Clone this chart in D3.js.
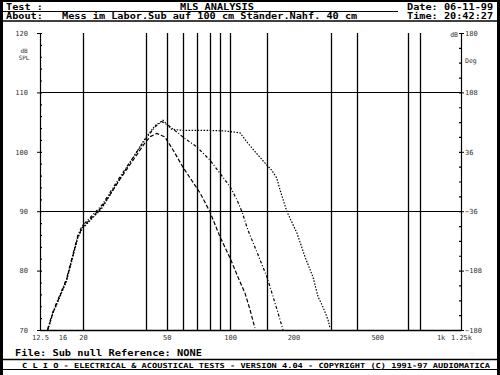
<!DOCTYPE html>
<html>
<head>
<meta charset="utf-8">
<script src="https://cdn.jsdelivr.net/npm/d3@7"></script>
<style>
  body { margin: 0; background: #fff; }
  text { font-family: "DejaVu Sans Mono", monospace; }
</style>
</head>
<body>
<script>
// level axis (dB SPL) and phase axis (Deg)
let dbTicks = [70, 80, 90, 100, 110, 120]
let dbGrid = [90, 110]
let phaseTicks = [-180, -108, -36, 36, 108, 180]

// frequency axis
let freqTicks = [12.5, 16, 20, 50, 100, 200, 500, 1000, 1250]
let freqLabels = ['12.5', '16', '20', '50', '100', '200', '500', '1k', '1.25k']
let gridFreqs = [20, 40, 50, 60, 70, 80, 90, 100, 150, 300, 400, 700, 800]

// three measured curves
let freqA = [13.6, 14.4, 16.7, 18.9, 19.8, 24.6, 30, 39.4, 42, 44.8, 49, 54, 59.7, 71.9, 80.2, 89.5, 100, 109, 117.7, 124.4, 131.2]
let dbA = [70, 72.9, 78.4, 85.7, 87.2, 90.7, 95.4, 101.5, 102.6, 103.1, 102.5, 100.1, 97.4, 93.1, 89.9, 85.7, 82.1, 78.9, 76.2, 73.4, 70.3]

let freqB = [13.6, 14.4, 16.7, 18.9, 19.8, 24.6, 30, 39.4, 44, 47.3, 50.7, 59.7, 69.6, 80.2, 89.5, 100, 107.9, 113.9, 121.6, 134.2, 149.7, 158.1, 168.9, 178.3]
let dbB = [70.2, 73.1, 78.6, 85.9, 87.5, 91.0, 95.8, 102.0, 104.2, 105.1, 104.5, 102.5, 100.8, 98.6, 96.4, 94.1, 91.9, 89.9, 86.8, 83.1, 78.9, 76.2, 72.9, 70.0]

let freqC = [13.6, 14.4, 16.7, 18.9, 19.8, 24.6, 30, 39.4, 44, 48, 52.7, 60, 71.9, 80, 94.6, 111.4, 119.9, 133.8, 149.2, 157.6, 166.5, 172.6, 186.3, 207.9, 226.9, 247.7, 261.6, 276, 291.9, 298.4]
let dbC = [70, 72.8, 78.2, 85.5, 87.0, 90.5, 95.5, 102.2, 104.4, 105.3, 103.8, 103.6, 103.6, 103.6, 103.5, 103.2, 101.7, 99.7, 97.8, 96.9, 95.6, 93.6, 89.9, 86.3, 82.3, 78.9, 75.6, 73.9, 71.7, 70.3]

width = 500
height = 375
margin = ({ left: 40, right: 39, top: 33, bottom: 45 })

let svg = d3.select('body')
  .append('svg')
  .attr('width', width)
  .attr('height', height)

// frame and header
svg.append('rect').attr('x', 0).attr('y', 0).attr('width', 3).attr('height', height).attr('fill', '#000')
svg.append('rect').attr('x', 497).attr('y', 0).attr('width', 3).attr('height', height).attr('fill', '#000')
svg.append('line').attr('x1', 0).attr('x2', width).attr('y1', 1).attr('y2', 1).attr('stroke', '#000').attr('stroke-width', 2)
svg.append('line').attr('x1', 0).attr('x2', 398).attr('y1', 11.5).attr('y2', 11.5).attr('stroke', '#000')
svg.append('line').attr('x1', 0).attr('x2', width).attr('y1', 21).attr('y2', 21).attr('stroke', '#000').attr('stroke-width', 1.5)

let header = [
  { x: 6, y: 9.5, t: 'Test :' },
  { x: 180, y: 9.5, t: 'MLS ANALYSIS' },
  { x: 407, y: 9.5, t: 'Date: 06-11-99' },
  { x: 6, y: 19, t: 'About:' },
  { x: 62, y: 19, t: 'Mess im Labor.Sub auf 100 cm Ständer.Nahf. 40 cm' },
  { x: 407, y: 19, t: 'Time: 20:42:27' }
]
svg.selectAll('.hdr')
  .data(header)
  .join('text')
    .attr('class', 'hdr')
    .attr('x', d => d.x)
    .attr('y', d => d.y)
    .attr('font-size', 9.5)
    .attr('font-weight', 'bold')
    .attr('textLength', d => d.t.length * 6.15)
    .attr('lengthAdjust', 'spacingAndGlyphs')
    .text(d => d.t)

let x = d3.scaleLog()
  .domain([12.5, 1250])
  .range([margin.left, width - margin.right])

let y = d3.scaleLinear()
  .domain([70, 120])
  .range([height - margin.bottom, margin.top])

let yPhase = d3.scaleLinear()
  .domain([-180, 180])
  .range([height - margin.bottom, margin.top])

// grid
svg.selectAll('.vgrid')
  .data(gridFreqs)
  .join('line')
    .attr('class', 'vgrid')
    .attr('x1', d => Math.round(x(d)) + 0.5)
    .attr('x2', d => Math.round(x(d)) + 0.5)
    .attr('y1', y(120))
    .attr('y2', y(70))
    .attr('stroke', '#000')
    .attr('stroke-width', 1.3)

svg.selectAll('.hgrid')
  .data(dbGrid)
  .join('line')
    .attr('class', 'hgrid')
    .attr('x1', x(12.5))
    .attr('x2', x(1250))
    .attr('y1', d => Math.round(y(d)) + 0.5)
    .attr('y2', d => Math.round(y(d)) + 0.5)
    .attr('stroke', '#000')
    .attr('stroke-width', 1.2)

// axes
let minorDb = d3.range(70, 121, 2)
svg.append('g')
  .attr('transform', `translate(${margin.left},0)`)
  .call(d3.axisLeft(y).tickValues(minorDb).tickSize(-2).tickFormat(''))
  .call(g => g.selectAll('line,path').attr('stroke', '#000').attr('stroke-width', 1.2))
svg.append('g')
  .attr('transform', `translate(${margin.left},0)`)
  .call(d3.axisLeft(y).tickValues(dbTicks).tickSize(3).tickPadding(9))
  .call(g => g.select('.domain').remove())
  .call(g => g.selectAll('text').attr('font-size', 7).attr('fill', '#333').attr('font-family', 'DejaVu Sans Condensed, sans-serif'))

svg.append('g')
  .attr('transform', `translate(${width - margin.right},0)`)
  .call(d3.axisRight(yPhase).tickValues(d3.range(-180, 181, 18)).tickSize(-2).tickFormat(''))
  .call(g => g.selectAll('line,path').attr('stroke', '#000').attr('stroke-width', 1.2))
svg.append('g')
  .attr('transform', `translate(${width - margin.right},0)`)
  .call(d3.axisRight(yPhase).tickValues(phaseTicks).tickSize(3).tickPadding(1))
  .call(g => g.select('.domain').remove())
  .call(g => g.selectAll('text').attr('font-size', 7).attr('fill', '#333').attr('font-family', 'DejaVu Sans Condensed, sans-serif'))

svg.append('g')
  .attr('transform', `translate(0,${height - margin.bottom})`)
  .call(d3.axisBottom(x).tickValues(freqTicks).tickSize(0).tickPadding(5).tickFormat((d, i) => freqLabels[i]))
  .call(g => g.select('.domain').attr('stroke', '#000').attr('stroke-width', 1.3))
  .call(g => g.selectAll('text').attr('font-size', 7).attr('fill', '#333').attr('font-family', 'DejaVu Sans Condensed, sans-serif'))

// units
svg.append('text').attr('x', 24).attr('y', 53).attr('text-anchor', 'middle')
  .attr('font-size', 6).attr('fill', '#333').attr('font-family', 'DejaVu Sans Condensed, sans-serif').text('dB')
svg.append('text').attr('x', 24).attr('y', 60).attr('text-anchor', 'middle')
  .attr('font-size', 6).attr('fill', '#333').attr('font-family', 'DejaVu Sans Condensed, sans-serif').text('SPL')
svg.append('text').attr('x', 458).attr('y', 37).attr('text-anchor', 'end')
  .attr('font-size', 6.5).attr('fill', '#333').attr('font-family', 'DejaVu Sans Condensed, sans-serif').text('dB')
svg.append('text').attr('x', 465).attr('y', 63)
  .attr('font-size', 6.5).attr('fill', '#333').attr('font-family', 'DejaVu Sans Condensed, sans-serif').text('Deg')

// curves
let curves = [
  { f: freqA, v: dbA, dash: '4,2' },
  { f: freqB, v: dbB, dash: '3,2,1,2' },
  { f: freqC, v: dbC, dash: '1.5,1.5' }
]
let line = d3.line()
  .x(d => x(d[0]))
  .y(d => y(d[1]))

svg.selectAll('.curve')
  .data(curves)
  .join('path')
    .attr('class', 'curve')
    .attr('d', c => line(c.f.map((f, i) => [f, c.v[i]])))
    .attr('fill', 'none')
    .attr('stroke', '#000')
    .attr('stroke-width', 1.2)
    .attr('stroke-dasharray', c => c.dash)

// footer
svg.append('text').attr('x', 15).attr('y', 356)
  .attr('font-size', 9.5).attr('font-weight', 'bold')
  .attr('textLength', 187).attr('lengthAdjust', 'spacingAndGlyphs')
  .text('File: Sub null Reference: NONE')
svg.append('line').attr('x1', 0).attr('x2', width).attr('y1', 359.5).attr('y2', 359.5).attr('stroke', '#000').attr('stroke-width', 1.5)
svg.append('line').attr('x1', 0).attr('x2', width).attr('y1', 369.5).attr('y2', 369.5).attr('stroke', '#000')
svg.append('text').attr('x', 22).attr('y', 367.5)
  .attr('font-size', 7).attr('font-weight', 'bold')
  .attr('textLength', 468).attr('lengthAdjust', 'spacingAndGlyphs')
  .text('C  L  I  O   -   ELECTRICAL & ACOUSTICAL TESTS   -   VERSION 4.04   -   COPYRIGHT (C) 1991-97 AUDIOMATICA')
</script>
</body>
</html>
